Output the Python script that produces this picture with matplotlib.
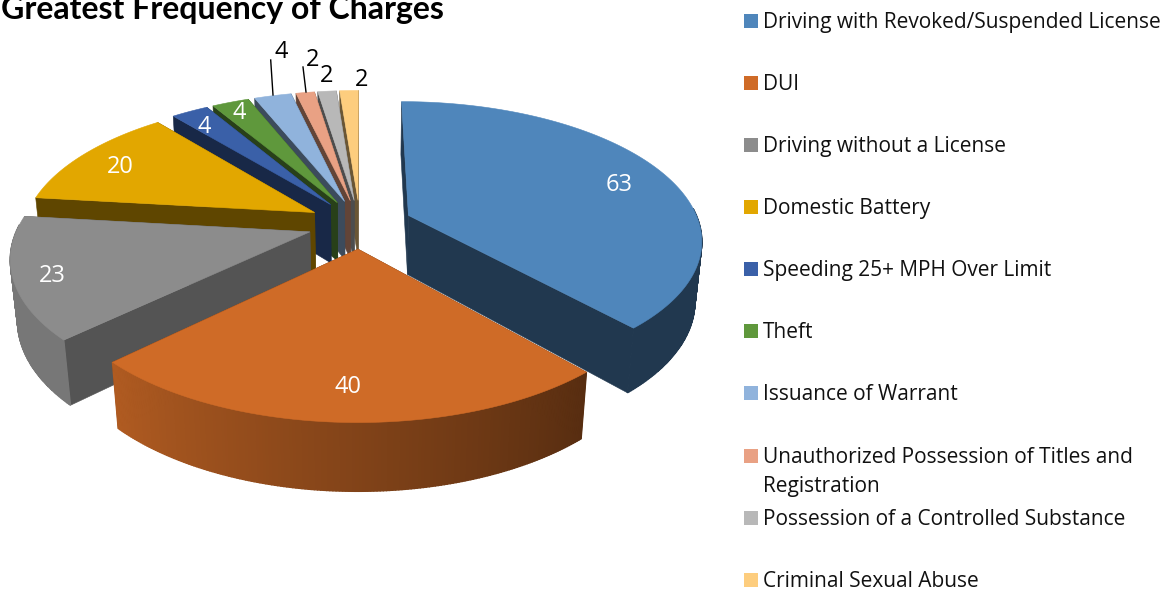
# 3D exploded pie of charge counts, drawn by hand since matplotlib has no perspective pie
import numpy as np
import matplotlib
matplotlib.use("Agg")
import matplotlib.pyplot as plt
from matplotlib.colors import to_rgb

title = "Greatest Frequency of Charges"
categories = [
    "Driving with Revoked/Suspended License",
    "DUI",
    "Driving without a License",
    "Domestic Battery",
    "Speeding 25+ MPH Over Limit",
    "Theft",
    "Issuance of Warrant",
    "Unauthorized Possession of Titles and\nRegistration",
    "Possession of a Controlled Substance",
    "Criminal Sexual Abuse",
]
values = [63, 40, 23, 20, 4, 4, 4, 2, 2, 2]
colors = ["#4F86BB", "#CF6B27", "#8C8C8C", "#E2A700", "#3A60A8",
          "#5F983C", "#90B3DC", "#E9A184", "#B8B8B8", "#FDCD7E"]

# camera / pie geometry, in units of pie radius
CX, CY, SCALE = 360, 224, 291
SIN_T, COS_T = 0.465, 0.888
PERSP_Y, PERSP_Z = 0.166, 0.086
HEIGHT = 0.235
EXPLODE = 0.18


def project(x, y, z):
    w = 1 + y * PERSP_Y - z * PERSP_Z
    return CX + SCALE * x / w, CY - SCALE * (y * SIN_T + z * COS_T) / w


def wall_shade(theta):
    # side lighting goes dark on the right, lighter towards front left
    return np.interp(theta, [0, 138, 226, 276], [0.42, 0.42, 0.85, 0.85])


def shaded(color, f):
    return tuple(c * f for c in to_rgb(color))


def fill(ax, xs, ys, color, lw=0.4):
    ax.fill(xs, ys, facecolor=color, edgecolor=color, linewidth=lw)


def draw_slice(ax, start, end, color):
    mid = np.radians((start + end) / 2)
    ox, oy = EXPLODE * np.sin(mid), EXPLODE * np.cos(mid)
    th = np.radians(np.linspace(start, end, max(int(end - start) * 2, 6)))
    ax_x, ax_y = ox + np.sin(th), oy + np.cos(th)

    # cut faces
    cut = 0.6 if 226 < (start + end) / 2 < 276 else 0.42
    for ang in (start, end):
        a = np.radians(ang)
        ex, ey = ox + np.sin(a), oy + np.cos(a)
        p = [project(ox, oy, 0), project(ex, ey, 0), project(ex, ey, -HEIGHT), project(ox, oy, -HEIGHT)]
        fill(ax, [q[0] for q in p], [q[1] for q in p], shaded(color, cut))

    # outer wall, one strip per step so the shading can change
    for i in range(len(th) - 1):
        t = (th[i] + th[i + 1]) / 2
        if np.cos(t) > 0.05:  # back of the wall, hidden anyway
            continue
        p = [project(ax_x[i], ax_y[i], 0), project(ax_x[i + 1], ax_y[i + 1], 0),
             project(ax_x[i + 1], ax_y[i + 1], -HEIGHT), project(ax_x[i], ax_y[i], -HEIGHT)]
        fill(ax, [q[0] for q in p], [q[1] for q in p], shaded(color, wall_shade(np.degrees(t))), lw=1.0)

    # top
    tx, ty = project(np.r_[ox, ax_x], np.r_[oy, ax_y], 0)
    fill(ax, tx, ty, color)


fig = plt.figure(figsize=(11.67, 5.9), dpi=100)
ax = fig.add_axes([0, 0, 1, 1])
ax.set_xlim(0, 1167)
ax.set_ylim(590, 0)
ax.axis("off")

# slices, back to front
angles = np.r_[0, np.cumsum(values)] / sum(values) * 360
mids = (angles[:-1] + angles[1:]) / 2
for i in np.argsort(-np.cos(np.radians(mids))):
    draw_slice(ax, angles[i], angles[i + 1], colors[i])

# data labels
label_pos = [(619, 185), (348, 387), (52, 276), (120, 167), (204, 127),
             (239, 113), (281, 52), (313, 60), (327, 76), (362, 80)]
label_col = ["white"] * 6 + ["black"] * 4
for v, (x, y), c in zip(values, label_pos, label_col):
    ax.text(x, y, str(v), ha="center", va="center", fontsize=17, color=c, family="Open Sans")

ax.plot([270.7, 273], [60, 95], color="black", lw=1)
ax.plot([303, 306], [67, 92], color="black", lw=1)

ax.text(1, 19, title, fontsize=23, fontweight="bold", family="Lato", va="baseline", clip_on=False)

# legend
legend_y = [21, 83, 145, 207, 269, 331, 393, 456, 518, 580]
for name, col, y in zip(categories, colors, legend_y):
    ax.fill([744, 758, 758, 744], [y - 7, y - 7, y + 7, y + 7], color=col, lw=0)
    for j, line in enumerate(name.split("\n")):
        ax.text(763, y + 7 + j * 29, line, fontsize=15, family="Open Sans", va="baseline", color="#111111")

fig.savefig("out.png", dpi=100)
